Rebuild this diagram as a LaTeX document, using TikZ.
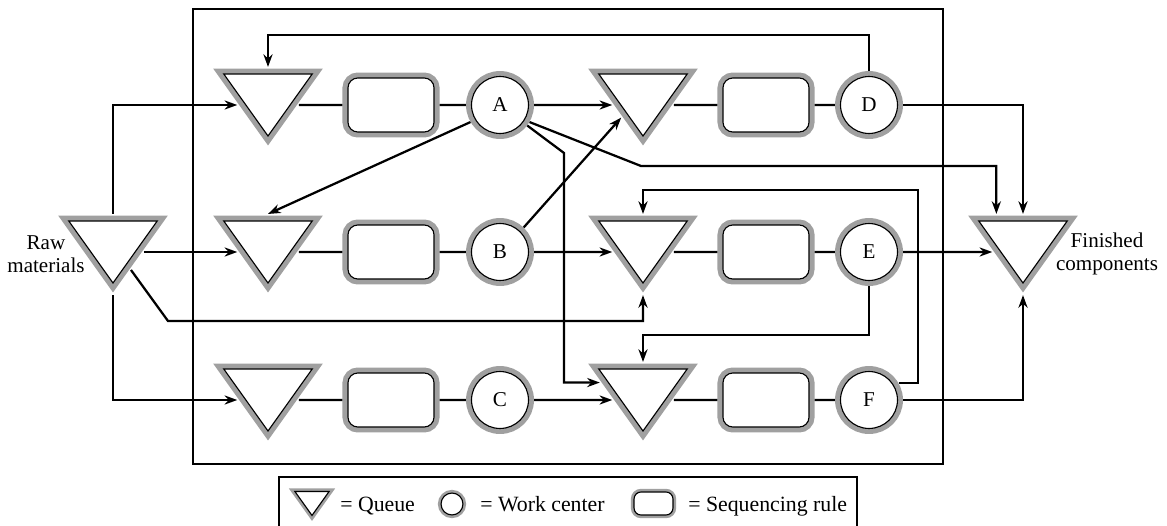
\documentclass[tikz,border=0pt]{standalone}
\usepackage{fontspec}
\setmainfont{Liberation Serif}
\usetikzlibrary{arrows.meta, shapes.geometric}
\definecolor{rimgray}{RGB}{160,160,160}

\begin{document}
\begin{tikzpicture}[x=0.025cm, y=-0.025cm,
    every node/.style={font=\fontsize{15pt}{16pt}\selectfont},
    rim/.style={draw=black, line width=0.8pt, fill=white, preaction={draw=rimgray, line width=#1}},
    rim/.default=7.8pt,
    queue/.style={rim=#1, isosceles triangle, isosceles triangle apex angle=71, shape border rotate=-90,
        inner sep=0pt, outer sep=5pt},
    queue/.default=7.8pt,
    seqbox/.style={rim=#1, rounded corners=7pt, minimum width=61.2pt, minimum height=38.4pt, inner sep=0pt, outer sep=4pt},
    seqbox/.default=7.8pt,
    station/.style={rim=#1, circle, minimum size=40.5pt, inner sep=0pt, outer sep=4pt},
    station/.default=7.8pt,
    frame/.style={draw=black, line width=0.9pt, inner sep=0pt},
    keytext/.style={anchor=base west, inner sep=0pt, font=\fontsize{15.5pt}{16pt}\selectfont},
    link/.style={line width=1.6pt},
    arr/.style={-{Stealth[length=9pt, width=6.5pt]}, line width=1.6pt}]
    \useasboundingbox (0,0) rectangle (1167,526);
    % plant and legend frames
    \node[frame, minimum width=533.5pt, minimum height=323.6pt] (plant) at (568,236.5) {};
    \node[frame, minimum width=411.1pt, minimum height=44.8pt] (legend) at (568,508.5) {};
    % raw materials and finished components
    \node[queue] (qR) at (113,252) {\rule{0pt}{44.1pt}};
    \node[align=center] (rawlbl) at (46,254) {Raw\\materials};
    \node[queue] (qF) at (1023,252) {\rule{0pt}{44.1pt}};
    \node[align=center] (finlbl) at (1107,254) {Finished\\components};
    % first column
    \node[queue] (q1) at (268,105) {\rule{0pt}{44.1pt}};
    \node[seqbox] (s1) at (391,105) {};
    \node[station] (wA) at (500,105) {A};
    \node[queue] (q2) at (268,252) {\rule{0pt}{44.1pt}};
    \node[seqbox] (s2) at (391,252) {};
    \node[station] (wB) at (500,252) {B};
    \node[queue] (q3) at (268,400) {\rule{0pt}{44.1pt}};
    \node[seqbox] (s3) at (391,400) {};
    \node[station] (wC) at (500,400) {C};
    % second column
    \node[queue] (q4) at (643,105) {\rule{0pt}{44.1pt}};
    \node[seqbox] (s4) at (766,105) {};
    \node[station] (wD) at (869,105) {D};
    \node[queue] (q5) at (643,252) {\rule{0pt}{44.1pt}};
    \node[seqbox] (s5) at (766,252) {};
    \node[station] (wE) at (869,252) {E};
    \node[queue] (q6) at (643,400) {\rule{0pt}{44.1pt}};
    \node[seqbox] (s6) at (766,400) {};
    \node[station] (wF) at (869,400) {F};
    % queue -- rule -- work center
    \draw[link] (q1.east) -- (s1.west) (s1.east) -- (wA.west);
    \draw[link] (q2.east) -- (s2.west) (s2.east) -- (wB.west);
    \draw[link] (q3.east) -- (s3.west) (s3.east) -- (wC.west);
    \draw[link] (q4.east) -- (s4.west) (s4.east) -- (wD.west);
    \draw[link] (q5.east) -- (s5.west) (s5.east) -- (wE.west);
    \draw[link] (q6.east) -- (s6.west) (s6.east) -- (wF.west);
    % routings
    \draw[arr] (qR.north) |- (q1.west);
    \draw[arr] (qR.east) -- (q2.west);
    \draw[arr] (qR.south) |- (q3.west);
    \draw[arr] (qR.-45) -- (168,321) -| (q5.south);
    \draw[arr] (wA.east) -- (q4.west);
    \draw[arr] (wA.-30) -- (641,166) -| (qF.125);
    \draw[arr] (wA.210) -- (q2.north);
    \draw[arr] (wA.-37) -- (564,153) |- (q6.158);
    \draw[arr] (wB.46) -- (q4.210);
    \draw[arr] (wB.east) -- (q5.west);
    \draw[arr] (wC.east) -- (q6.west);
    \draw[arr] (wD.north) -- ++(0,-36) -| (q1.north);
    \draw[arr] (wD.east) -| (qF.north);
    \draw[arr] (wE.east) -- (qF.west);
    \draw[arr] (wE.south) -- ++(0,49) -| (q6.north);
    \draw[arr] (wF.30) -| (918,190) -| (q5.north);
    \draw[arr] (wF.east) -| (qF.south);
    % legend
    \node[queue=4.5pt, outer sep=0pt] (keyq) at (312,503.5) {\rule{0pt}{17pt}};
    \node[keytext] (keyqt) at (340,511) {= Queue};
    \node[station=4.5pt, minimum size=15.6pt, outer sep=0pt] (keyw) at (452,504) {};
    \node[keytext] (keywt) at (480,511) {= Work center};
    \node[seqbox=4.5pt, rounded corners=5pt, minimum width=27.7pt, minimum height=16.4pt, outer sep=0pt] (keys) at (653.5,503.5) {};
    \node[keytext] (keyst) at (688,511) {= Sequencing rule};
\end{tikzpicture}
\end{document}
